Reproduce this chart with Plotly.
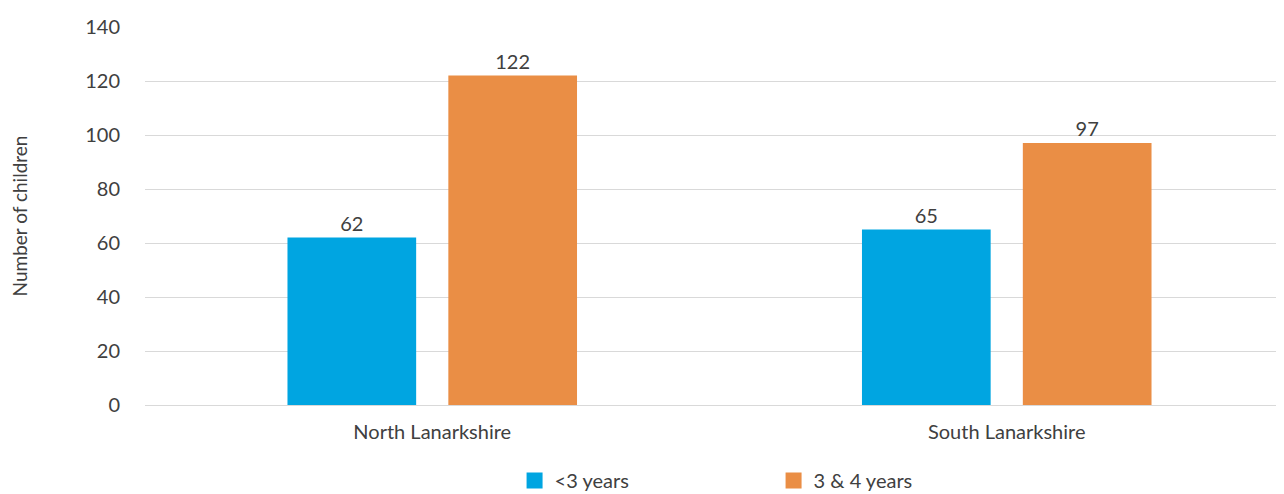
import plotly.graph_objects as go

categories = ["North Lanarkshire", "South Lanarkshire"]
under3 = [62, 65]
three_four = [122, 97]
series_names = ["<3 years", "3 & 4 years"]
colors = ["#00A5E1", "#EA8E45"]

FONT = "Lato, sans-serif"
TXT = "#404040"

fig = go.Figure()
for name, vals, col in zip(series_names, [under3, three_four], colors):
    fig.add_trace(go.Bar(
        x=categories, y=vals, name=name, marker_color=col, marker_line_width=0,
        text=vals, textposition="outside", cliponaxis=False,
        textfont=dict(size=20, color=TXT), showlegend=False,
    ))
# legend keys with larger square symbols
for name, col in zip(series_names, colors):
    fig.add_trace(go.Scatter(
        x=[None], y=[None], mode="markers", name=name,
        marker=dict(symbol="square", size=17, color=col),
    ))

fig.update_layout(
    width=1276, height=486,
    margin=dict(l=137, r=0, t=19, b=89, autoexpand=False),
    paper_bgcolor="white", plot_bgcolor="white",
    font=dict(family=FONT, size=20, color=TXT),
    barmode="group", bargap=0.44, bargroupgap=0.2,
    showlegend=True,
    legend=dict(orientation="h", x=0.397, xref="container", xanchor="left",
                y=0.068, yref="container", yanchor="top",
                font=dict(size=20, color=TXT), entrywidth=214,
                itemwidth=30, itemsizing="trace"),
)
fig.update_yaxes(range=[0, 140], dtick=20, showgrid=True, gridcolor="#D9D9D9",
                 gridwidth=1, zeroline=False, showline=False, ticks="",
                 layer="above traces", automargin=False, ticklabelstandoff=24,
                 title=dict(text="Number of children", font=dict(size=19, color=TXT), standoff=58),
                 tickfont=dict(size=20, color=TXT))
fig.update_xaxes(showline=True, linecolor="#D9D9D9", ticks="", automargin=False,
                 ticklabelstandoff=9, range=[-0.5, 1.4826],
                 tickfont=dict(size=20, color=TXT))

fig.write_html("out.html")
